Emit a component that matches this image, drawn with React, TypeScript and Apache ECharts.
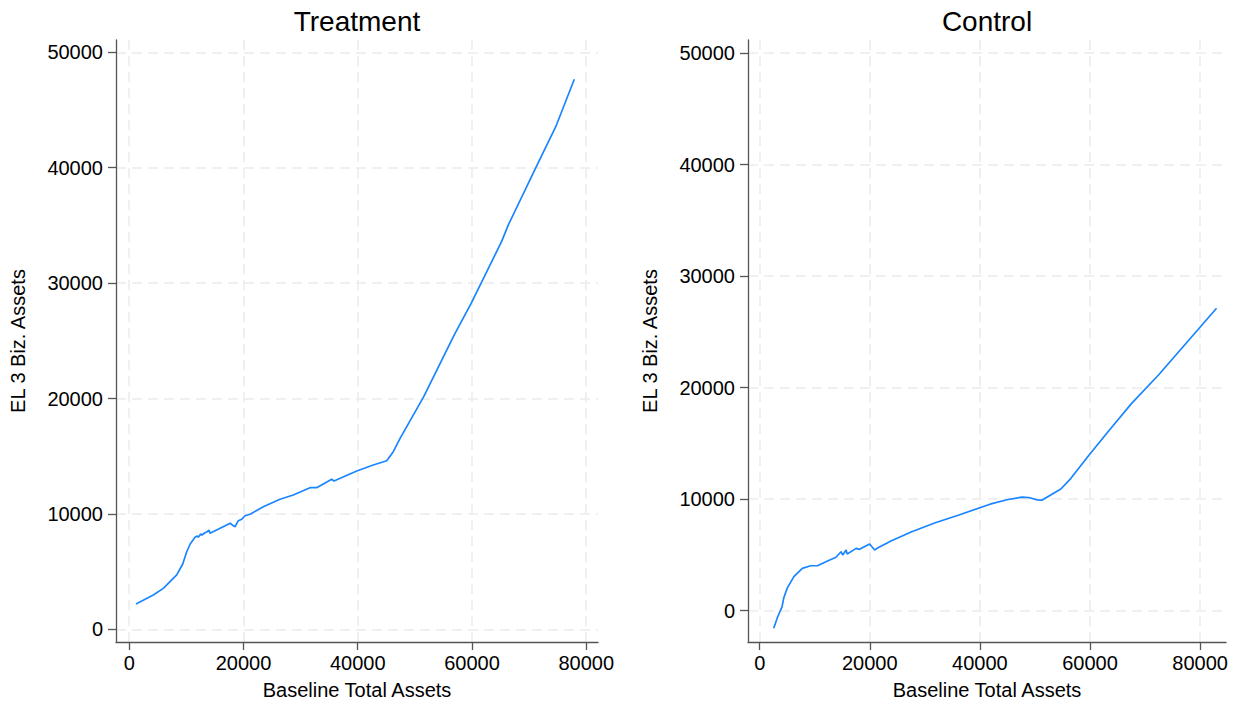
import React, { useEffect, useRef } from "react";
import * as echarts from "echarts";

// Treatment: [baseline total assets, EL3 biz assets]
const treatmentX = [1190, 4220, 5970, 8320, 9370, 10070, 10680, 11520, 11920, 12100, 12520, 12740, 13270, 13570, 13970, 14150, 17690, 18120, 18520, 19100, 19690, 20270, 21150, 23480, 26400, 28730, 31650, 32820, 35450, 35850, 39830, 42730, 45080, 46230, 47420, 51560, 56880, 59860, 65180, 66370, 71120, 74670, 77920];
const treatmentY = [2190, 2970, 3550, 4710, 5660, 6720, 7390, 7970, 8080, 7970, 8260, 8170, 8370, 8430, 8580, 8320, 9190, 9010, 8890, 9410, 9530, 9840, 9970, 10620, 11270, 11640, 12270, 12270, 13000, 12850, 13720, 14240, 14610, 15390, 16550, 20160, 25500, 28250, 33590, 35040, 39950, 43550, 47660];

const controlX = [2540, 3270, 4070, 4350, 4980, 6210, 7740, 9260, 10480, 12320, 13860, 14770, 15080, 15690, 15880, 17530, 18130, 19960, 20890, 21490, 23940, 27610, 31900, 36190, 41840, 44910, 47650, 48880, 50410, 51320, 54700, 56530, 59580, 63270, 67560, 72440, 77970, 82980];
const controlY = [-1580, -540, 360, 1110, 2000, 3050, 3800, 4030, 4030, 4460, 4790, 5290, 4990, 5440, 5080, 5590, 5500, 5980, 5440, 5650, 6280, 7080, 7890, 8580, 9550, 9950, 10180, 10150, 9930, 9920, 10910, 11870, 13810, 16050, 18590, 21130, 24270, 27110];

const xTicks = [0, 20000, 40000, 60000, 80000];
const yTicks = [0, 10000, 20000, 30000, 40000, 50000];
const panelTitles = ["Treatment", "Control"];
const xTitle = "Baseline Total Assets";
const yTitle = "EL 3 Biz. Assets";

const FONT = "'Liberation Sans', Arial, Helvetica, sans-serif";
const AXIS_COLOR = "#555555";
const LINE_COLOR = "#1a85ff";
const GRID_COLOR = "#ebebeb";

function zip(xs: number[], ys: number[]) {
  return xs.map((x, i) => [x, ys[i]]);
}

export default function App() {
  const ref = useRef<HTMLDivElement>(null);
  useEffect(() => {
    if (!ref.current) return;
    const chart = echarts.init(ref.current, null, { renderer: "svg" });
    const axisCommon = {
      axisLine: { show: true, onZero: false, lineStyle: { color: AXIS_COLOR, width: 1.3 } },
      axisTick: { show: true, inside: false, length: 8, lineStyle: { color: AXIS_COLOR, width: 1.3 } },
      splitLine: { show: true, lineStyle: { color: GRID_COLOR, width: 1.5, type: [10, 6] } },
      nameLocation: "middle" as const,
      nameTextStyle: { fontSize: 20, color: "#000", fontFamily: FONT },
    };
    const fmt = (v: number) => String(Math.round(v));
    const mkX = (idx: number, min: number, max: number) => ({
      type: "value" as const,
      gridIndex: idx,
      min,
      max,
      name: xTitle,
      nameGap: 38,
      ...axisCommon,
      axisTick: { ...axisCommon.axisTick, customValues: xTicks },
      axisLabel: { customValues: xTicks, formatter: fmt, fontSize: 20, color: "#000", fontFamily: FONT, margin: 11 },
    });
    const mkY = (idx: number, min: number, max: number) => ({
      type: "value" as const,
      gridIndex: idx,
      min,
      max,
      name: yTitle,
      nameGap: 88,
      ...axisCommon,
      axisTick: { ...axisCommon.axisTick, customValues: yTicks },
      axisLabel: { customValues: yTicks, formatter: fmt, fontSize: 20, color: "#000", fontFamily: FONT, margin: 13 },
    });
    chart.setOption({
      animation: false,
      backgroundColor: "#ffffff",
      grid: [
        { left: 116, top: 40, width: 482, height: 602 },
        { left: 748, top: 40, width: 478, height: 602 },
      ],
      xAxis: [mkX(0, -2311, 82066), mkX(1, -2125, 84700)],
      yAxis: [mkY(0, -1100, 51066), mkY(1, -2806, 51165)],
      graphic: [
        {
          type: "text",
          x: 357,
          y: 21,
          style: { text: panelTitles[0], fontSize: 28, fontFamily: FONT, fill: "#000", align: "center", verticalAlign: "middle", textAlign: "center", textVerticalAlign: "middle" },
        },
        {
          type: "text",
          x: 987,
          y: 21,
          style: { text: panelTitles[1], fontSize: 28, fontFamily: FONT, fill: "#000", align: "center", verticalAlign: "middle", textAlign: "center", textVerticalAlign: "middle" },
        },
      ],
      series: [
        {
          type: "line",
          name: panelTitles[0],
          xAxisIndex: 0,
          yAxisIndex: 0,
          data: zip(treatmentX, treatmentY),
          showSymbol: false,
          lineStyle: { color: LINE_COLOR, width: 1.7 },
          itemStyle: { color: LINE_COLOR },
        },
        {
          type: "line",
          name: panelTitles[1],
          xAxisIndex: 1,
          yAxisIndex: 1,
          data: zip(controlX, controlY),
          showSymbol: false,
          lineStyle: { color: LINE_COLOR, width: 1.7 },
          itemStyle: { color: LINE_COLOR },
        },
      ],
    });
    return () => chart.dispose();
  }, []);
  return (
    <div
      ref={ref}
      style={{ position: "absolute", left: 0, top: 0, width: 1234, height: 707, background: "#fff" }}
    />
  );
}
